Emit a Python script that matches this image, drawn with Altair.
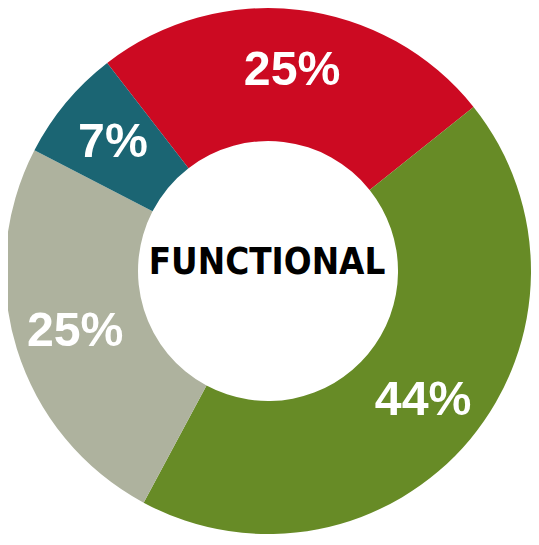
import altair as alt
import pandas as pd

categories = ["A", "B", "C", "D"]
values = [25, 44, 25, 7]
labels = ["25%", "44%", "25%", "7%"]
colors = ["#CC0A22", "#678B26", "#AEB29E", "#1B6573"]
order = [1, 2, 3, 4]
center_title = "FUNCTIONAL"

df = pd.DataFrame({"cat": categories, "value": values, "label": labels, "order": order})

start = 5.625
theta_scale = alt.Scale(range=[start, start + 6.283185307])

base = alt.Chart(df).encode(
    theta=alt.Theta("value:Q", stack=True, scale=theta_scale),
    order=alt.Order("order:Q"),
)

arcs = base.mark_arc(outerRadius=267, innerRadius=132, stroke=None).encode(
    color=alt.Color("cat:N", scale=alt.Scale(domain=categories, range=colors), legend=None)
)

text = base.mark_text(
    radius=205, font="Liberation Sans", fontWeight="bold", fontSize=49,
    color="white", align="center", baseline="middle"
).encode(text="label:N")

center = alt.Chart(pd.DataFrame({"t": [center_title]})).mark_text(
    font="DejaVu Sans Condensed", fontWeight="bold",
    fontSize=37, color="black", align="center", baseline="middle"
).encode(text="t:N", x=alt.value(263), y=alt.value(255))

chart = alt.layer(arcs, text, center).properties(
    width=528, height=526,
    autosize=alt.AutoSizeParams(type="none"),
    padding={"left": 0, "top": 0, "right": 3, "bottom": 3},
).configure_view(stroke=None)

chart.save("out.html", embed_options={"renderer": "svg", "actions": False})
